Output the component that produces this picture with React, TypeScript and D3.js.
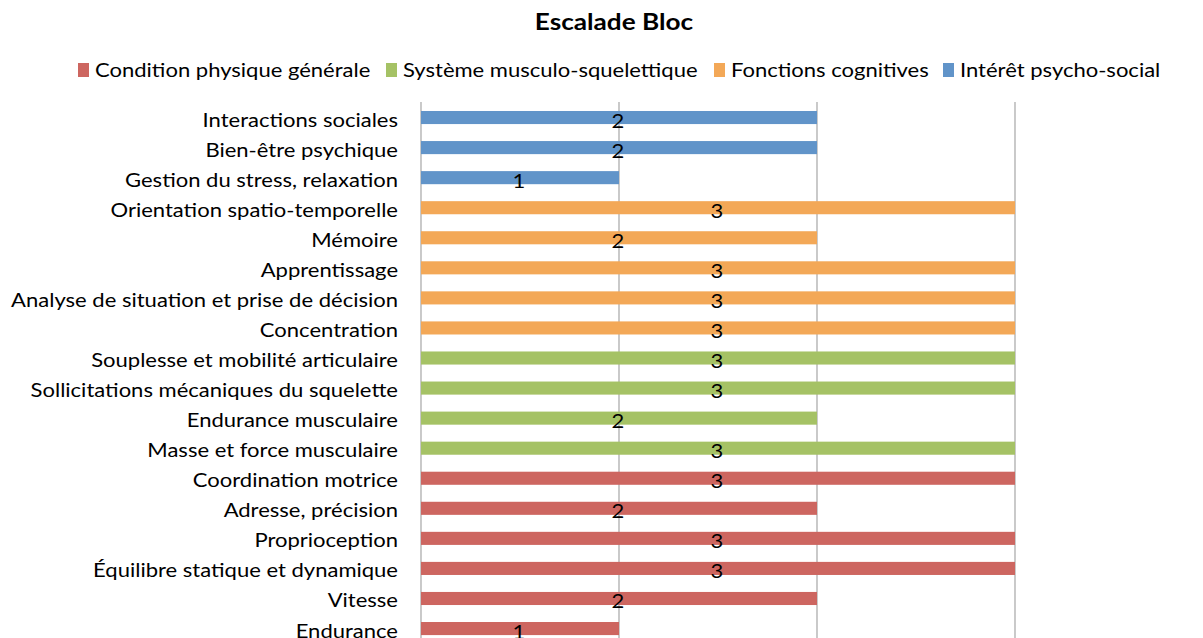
import React from "react";
import * as d3 from "d3";

const categories = [
  "Interactions sociales",
  "Bien-être psychique",
  "Gestion du stress, relaxation",
  "Orientation spatio-temporelle",
  "Mémoire",
  "Apprentissage",
  "Analyse de situation et prise de décision",
  "Concentration",
  "Souplesse et mobilité articulaire",
  "Sollicitations mécaniques du squelette",
  "Endurance musculaire",
  "Masse et force musculaire",
  "Coordination motrice",
  "Adresse, précision",
  "Proprioception",
  "Équilibre statique et dynamique",
  "Vitesse",
  "Endurance",
];
const values = [2, 2, 1, 3, 2, 3, 3, 3, 3, 3, 2, 3, 3, 2, 3, 3, 2, 1];
const groupOf = [3, 3, 3, 2, 2, 2, 2, 2, 1, 1, 1, 1, 0, 0, 0, 0, 0, 0];
const seriesNames = [
  "Condition physique générale",
  "Système musculo-squelettique",
  "Fonctions cognitives",
  "Intérêt psycho-social",
];
const seriesColors = ["#CD6660", "#A5C265", "#F3A857", "#6194C9"];
const xTicks = [0, 1, 2, 3];
const title = "Escalade Bloc";

const W = 1203;
const H = 638;
const FONT = "Lato, 'Open Sans', sans-serif";
const SX = 1.19;

function T({ x, y, anchor, size, weight, children }: any) {
  return (
    <g transform={`translate(${x},${y}) scale(${SX},1)`}>
      <text x={0} y={0} textAnchor={anchor} fontSize={size} fontWeight={weight} fill="#000">
        {children}
      </text>
    </g>
  );
}

export default function App() {
  const x = d3.scaleLinear().domain([0, 3]).range([421, 1015]);
  const y = d3
    .scaleBand<string>()
    .domain(categories)
    .range([102.5, 102.5 + 18 * 30.06])
    .paddingInner(0.565)
    .paddingOuter(0.2825);
  const bw = y.bandwidth();
  const legendX = [78, 386, 714, 943];

  return (
    <svg
      width={W}
      height={H}
      style={{ position: "absolute", left: 0, top: 0, background: "#fff" }}
      fontFamily={FONT}
    >
      <T x={614} y={30} anchor="middle" size={22} weight="bold">
        {title}
      </T>
      {seriesNames.map((s, i) => (
        <g key={s}>
          <rect x={legendX[i]} y={63} width={11} height={14} fill={seriesColors[i]} />
          <T x={legendX[i] + 17} y={77} anchor="start" size={18.5}>
            {s}
          </T>
        </g>
      ))}
      {xTicks.map((t) => (
        <line key={t} x1={x(t)} x2={x(t)} y1={102} y2={H} stroke="#A6A6A6" strokeWidth={1.2} />
      ))}
      {categories.map((c, i) => {
        const yy = y(c)!;
        return (
          <g key={c}>
            <rect
              x={x(0)}
              y={yy}
              width={x(values[i]) - x(0)}
              height={bw}
              fill={seriesColors[groupOf[i]]}
            />
            <T x={398} y={yy + bw / 2 + 9} anchor="end" size={18.5}>
              {c}
            </T>
            <T x={(x(0) + x(values[i])) / 2 - 1} y={yy + bw / 2 + 10} anchor="middle" size={18.5}>
              {values[i]}
            </T>
          </g>
        );
      })}
    </svg>
  );
}
